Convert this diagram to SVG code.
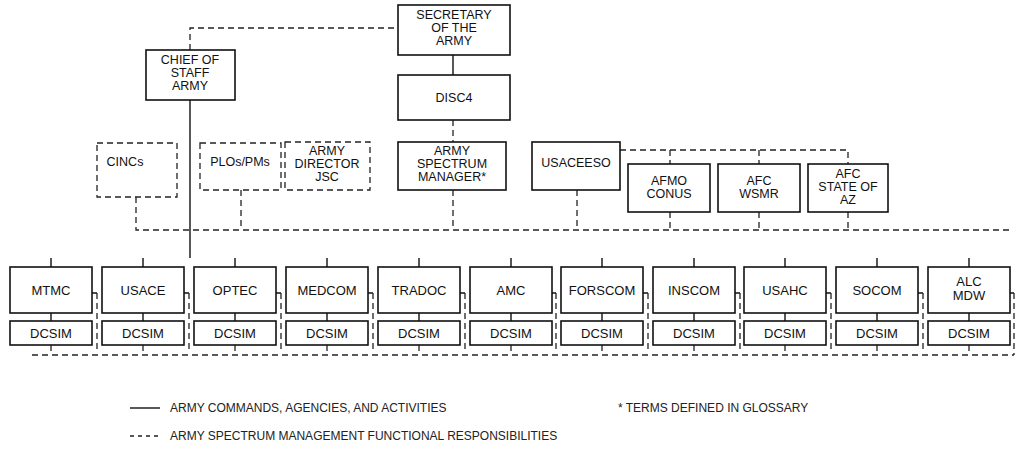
<svg xmlns="http://www.w3.org/2000/svg" width="1019" height="455" viewBox="0 0 1019 455">
<style>
.box{fill:#fff;stroke:#111;stroke-width:1.6}
.dbox{fill:#fff;stroke:#222;stroke-width:1.3;stroke-dasharray:6 4}
.t{font-family:"Liberation Sans",Arial,sans-serif;font-size:13px;fill:#111;text-anchor:middle}
.ts{font-family:"Liberation Sans",Arial,sans-serif;font-size:12.5px;fill:#111;text-anchor:middle}
.lg{font-family:"Liberation Sans",Arial,sans-serif;font-size:12px;fill:#222}
.s{fill:none;stroke:#111;stroke-width:1.4}
.d{fill:none;stroke:#222;stroke-width:1.3;stroke-dasharray:6 4}
</style>
<rect width="1019" height="455" fill="#fff"/>
<g id="connectors">
  <path class="d" d="M190,50 V28 H398"/>
  <path class="s" d="M453,55 V75"/>
  <path class="s" d="M190,100 V258"/>
  <path class="d" d="M453,120 V142"/>
  <path class="d" d="M620,150 H848 V164 M670,150 V164 M759,150 V164"/>
  <path class="d" d="M136,197 V230 H1010"/>
  <path class="d" d="M241,190 V230"/>
  <path class="d" d="M453,190 V230"/>
  <path class="d" d="M577,190 V230"/>
  <path class="d" d="M670,212 V230 M759,212 V230 M848,212 V230"/>
  <path class="s" d="M51,258 V267 M143,258 V267 M235,258 V267 M327,258 V267 M419,258 V267 M511,258 V267 M602,258 V267 M694,258 V267 M785,258 V267 M877,258 V267 M969,258 V267"/>
  <path class="s" d="M51,313 V321 M143,313 V321 M235,313 V321 M327,313 V321 M419,313 V321 M511,313 V321 M602,313 V321 M694,313 V321 M785,313 V321 M877,313 V321 M969,313 V321"/>
  <path class="s" d="M92,293 H97 M184,293 H189 M276,293 H281 M368,293 H373 M460,293 H465 M552,293 H556 M643,293 H648 M735,293 H740 M826,293 H831 M918,293 H923 M1010,293 H1014"/>
  <path class="d" d="M97,293 V352 M189,293 V352 M281,293 V352 M373,293 V352 M465,293 V352 M556,293 V352 M648,293 V352 M740,293 V352 M831,293 V352 M923,293 V352 M1014,293 V355"/>
  <path class="d" d="M51,345 V355 M143,345 V355 M235,345 V355 M327,345 V355 M419,345 V355 M511,345 V355 M602,345 V355 M694,345 V355 M785,345 V355 M877,345 V355 M969,345 V355"/>
  <path class="d" d="M32,355 H1014"/>
</g>
<g id="secretary"><rect class="box" x="398" y="5" width="112" height="50"/><text class="ts" x="454" y="19">SECRETARY</text><text class="ts" x="454" y="32">OF THE</text><text class="ts" x="454" y="45">ARMY</text></g>
<g id="chief"><rect class="box" x="146" y="50" width="89" height="50"/><text class="ts" x="190" y="64">CHIEF OF</text><text class="ts" x="190" y="77">STAFF</text><text class="ts" x="190" y="90">ARMY</text></g>
<g id="disc4"><rect class="box" x="398" y="75" width="112" height="45"/><text class="ts" x="454" y="102">DISC4</text></g>
<g id="cincs"><rect class="dbox" x="97" y="143" width="80" height="54"/><text class="ts" x="125" y="166">CINCs</text></g>
<g id="plos"><rect class="dbox" x="200" y="143" width="81" height="47"/><text class="ts" x="240" y="166">PLOs/PMs</text></g>
<g id="director"><rect class="dbox" x="285" y="142" width="85" height="48"/><text class="ts" x="327" y="155">ARMY</text><text class="ts" x="327" y="168">DIRECTOR</text><text class="ts" x="327" y="181">JSC</text></g>
<g id="asm"><rect class="box" x="398" y="142" width="108" height="48"/><text class="ts" x="452" y="155">ARMY</text><text class="ts" x="452" y="168">SPECTRUM</text><text class="ts" x="452" y="181">MANAGER*</text></g>
<g id="usaceeso"><rect class="box" x="532" y="142" width="88" height="48"/><text class="ts" x="576" y="167">USACEESO</text></g>
<g id="afmo"><rect class="box" x="628" y="164" width="82" height="48"/><text class="ts" x="669" y="185">AFMO</text><text class="ts" x="669" y="198">CONUS</text></g>
<g id="afcwsmr"><rect class="box" x="718" y="164" width="82" height="48"/><text class="ts" x="759" y="185">AFC</text><text class="ts" x="759" y="198">WSMR</text></g>
<g id="afcaz"><rect class="box" x="808" y="164" width="80" height="48"/><text class="ts" x="848" y="178">AFC</text><text class="ts" x="848" y="191">STATE OF</text><text class="ts" x="848" y="204">AZ</text></g>
<g id="mtmc"><rect class="box" x="10" y="267" width="82" height="46"/><text class="t" x="51" y="295">MTMC</text></g>
<g id="usace"><rect class="box" x="102" y="267" width="82" height="46"/><text class="t" x="143" y="295">USACE</text></g>
<g id="optec"><rect class="box" x="194" y="267" width="82" height="46"/><text class="t" x="235" y="295">OPTEC</text></g>
<g id="medcom"><rect class="box" x="286" y="267" width="82" height="46"/><text class="t" x="327" y="295">MEDCOM</text></g>
<g id="tradoc"><rect class="box" x="378" y="267" width="82" height="46"/><text class="t" x="419" y="295">TRADOC</text></g>
<g id="amc"><rect class="box" x="470" y="267" width="82" height="46"/><text class="t" x="511" y="295">AMC</text></g>
<g id="forscom"><rect class="box" x="561" y="267" width="82" height="46"/><text class="t" x="602" y="295">FORSCOM</text></g>
<g id="inscom"><rect class="box" x="653" y="267" width="82" height="46"/><text class="t" x="694" y="295">INSCOM</text></g>
<g id="usahc"><rect class="box" x="744" y="267" width="82" height="46"/><text class="t" x="785" y="295">USAHC</text></g>
<g id="socom"><rect class="box" x="836" y="267" width="82" height="46"/><text class="t" x="877" y="295">SOCOM</text></g>
<g id="alcmdw"><rect class="box" x="928" y="267" width="82" height="46"/><text class="t" x="969" y="286">ALC</text><text class="t" x="969" y="300">MDW</text></g>
<g id="dcsim1"><rect class="box" x="10" y="321" width="82" height="24"/><text class="t" x="51" y="338">DCSIM</text></g>
<g id="dcsim2"><rect class="box" x="102" y="321" width="82" height="24"/><text class="t" x="143" y="338">DCSIM</text></g>
<g id="dcsim3"><rect class="box" x="194" y="321" width="82" height="24"/><text class="t" x="235" y="338">DCSIM</text></g>
<g id="dcsim4"><rect class="box" x="286" y="321" width="82" height="24"/><text class="t" x="327" y="338">DCSIM</text></g>
<g id="dcsim5"><rect class="box" x="378" y="321" width="82" height="24"/><text class="t" x="419" y="338">DCSIM</text></g>
<g id="dcsim6"><rect class="box" x="470" y="321" width="82" height="24"/><text class="t" x="511" y="338">DCSIM</text></g>
<g id="dcsim7"><rect class="box" x="561" y="321" width="82" height="24"/><text class="t" x="602" y="338">DCSIM</text></g>
<g id="dcsim8"><rect class="box" x="653" y="321" width="82" height="24"/><text class="t" x="694" y="338">DCSIM</text></g>
<g id="dcsim9"><rect class="box" x="744" y="321" width="82" height="24"/><text class="t" x="785" y="338">DCSIM</text></g>
<g id="dcsim10"><rect class="box" x="836" y="321" width="82" height="24"/><text class="t" x="877" y="338">DCSIM</text></g>
<g id="dcsim11"><rect class="box" x="928" y="321" width="82" height="24"/><text class="t" x="969" y="338">DCSIM</text></g>
<g id="legend">
  <path class="s" d="M130,408 H160"/>
  <text class="lg" x="170" y="412">ARMY COMMANDS, AGENCIES, AND ACTIVITIES</text>
  <path class="d" d="M130,436 H160" style="stroke-dasharray:4 4"/>
  <text class="lg" x="170" y="440">ARMY SPECTRUM MANAGEMENT FUNCTIONAL RESPONSIBILITIES</text>
  <text class="lg" x="618" y="412">* TERMS DEFINED IN GLOSSARY</text>
</g>
</svg>
